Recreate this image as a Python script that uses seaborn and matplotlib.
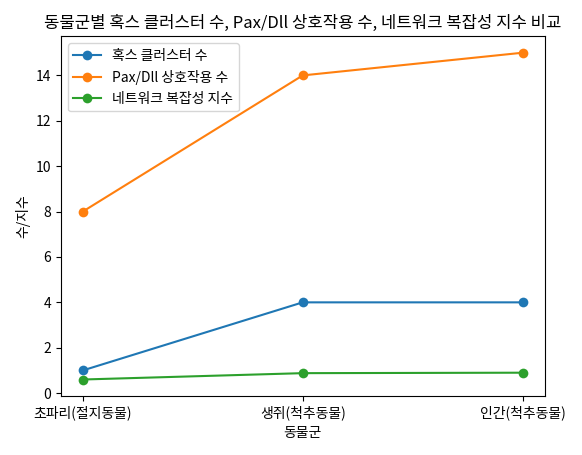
import matplotlib
matplotlib.use("Agg")
import matplotlib.pyplot as plt
import seaborn as sns
import pandas as pd

groups = ['초파리(절지동물)', '생쥐(척추동물)', '인간(척추동물)']
hox_clusters = [1, 4, 4]
pax_dll = [8, 14, 15]
complexity = [0.6, 0.88, 0.9]

plt.rcParams['font.family'] = ['Noto Sans CJK KR', 'DejaVu Sans']
plt.rcParams['axes.unicode_minus'] = False

df = pd.DataFrame({'동물군': groups, '혹스 클러스터 수': hox_clusters,
                   'Pax/Dll 상호작용 수': pax_dll, '네트워크 복잡성 지수': complexity})
long = df.melt(id_vars='동물군', var_name='series', value_name='value')

fig, ax = plt.subplots(figsize=(5.82, 4.55), dpi=100)
sns.lineplot(data=long, x='동물군', y='value', hue='series', marker='o',
             markersize=7, markeredgewidth=0, sort=False, ax=ax)
ax.legend(loc='upper left')
ax.set_title('동물군별 혹스 클러스터 수, Pax/Dll 상호작용 수, 네트워크 복잡성 지수 비교')
ax.set_xlabel('동물군')
ax.set_ylabel('수/지수')
plt.tight_layout()
plt.savefig('out.png', dpi=100)
